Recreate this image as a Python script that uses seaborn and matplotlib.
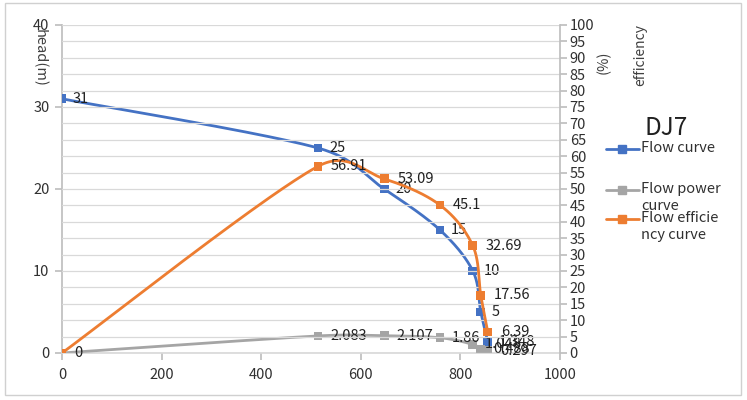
import numpy as np
import pandas as pd
import matplotlib
matplotlib.use("Agg")
import matplotlib.pyplot as plt
import seaborn as sns
from matplotlib.lines import Line2D
from matplotlib.patches import Rectangle

# ---- data ----
flow = [0, 514, 647, 759, 825, 841, 855]
head = [31, 25, 20, 15, 10, 5, 1.348]
head_labels = ["31", "25", "20", "15", "10", "5", "1.348"]
power = [0, 2.083, 2.107, 1.86, 1.048, 0.488, 0.297]
power_labels = ["0", "2.083", "2.107", "1.86", "1.048", "0.488", "0.297"]
eff = [0, 56.91, 53.09, 45.1, 32.69, 17.56, 6.39]
eff_labels = ["", "56.91", "53.09", "45.1", "32.69", "17.56", "6.39"]
legend_title = "DJ7"
series_names = ["Flow curve", "Flow power\ncurve", "Flow efficie\nncy curve"]
x_ticks = [0, 200, 400, 600, 800, 1000]
left_ticks = [0, 10, 20, 30, 40]
right_ticks = list(range(0, 101, 5))

BLUE = "#4472C4"
GRAY = "#A5A5A5"
ORANGE = "#ED7D31"

sns.set_theme(style="white")
plt.rcParams["font.family"] = ["Noto Sans CJK SC", "DejaVu Sans"]

AX_W, AX_H = 498.0, 328.0  # axes size in pixels


def smooth(x, y, xmax, ymax, clamp=0.5, n=60):
    """Excel-like smoothed line: Catmull-Rom Bezier in screen space, arms clamped."""
    sx = AX_W / xmax
    sy = AX_H / ymax
    P = np.column_stack([np.asarray(x, float) * sx, np.asarray(y, float) * sy])
    m = len(P)
    cb = np.zeros_like(P)
    ca = np.zeros_like(P)
    for i in range(m):
        prev = P[i - 1] if i > 0 else P[i]
        nxt = P[i + 1] if i < m - 1 else P[i]
        v = nxt - prev
        nv = np.linalg.norm(v)
        if nv == 0:
            cb[i] = ca[i] = P[i]
            continue
        u = v / nv
        d01 = np.linalg.norm(P[i] - prev)
        d12 = np.linalg.norm(nxt - P[i])
        ab = min(nv / 6, clamp * d01) if i > 0 else 0
        aa = min(nv / 6, clamp * d12) if i < m - 1 else 0
        cb[i] = P[i] - ab * u
        ca[i] = P[i] + aa * u
    out = []
    t = np.linspace(0, 1, n)[:, None]
    for i in range(m - 1):
        p0, p1, p2, p3 = P[i], ca[i], cb[i + 1], P[i + 1]
        seg = ((1 - t) ** 3) * p0 + 3 * ((1 - t) ** 2) * t * p1 + 3 * (1 - t) * t ** 2 * p2 + t ** 3 * p3
        out.append(seg if i == 0 else seg[1:])
    out = np.vstack(out)
    return out[:, 0] / sx, out[:, 1] / sy


fig = plt.figure(figsize=(7.47, 4.0), dpi=100)
ax = fig.add_axes([62 / 747, 47 / 400, AX_W / 747, AX_H / 400])
ax2 = ax.twinx()

ax2.set_ylim(0, 100)
ax.set_ylim(0, 40)
ax.set_xlim(0, 1000)
ax2.set_yticks(right_ticks)
ax2.grid(True, axis="y", color="#D9D9D9", lw=0.9)
ax.set_yticks(left_ticks)
ax.set_xticks(x_ticks)
ax.grid(False)

# curves
sx_, sy_ = smooth(flow, head, 1000, 40)
sns.lineplot(data=pd.DataFrame({"x": sx_, "y": sy_}), x="x", y="y", ax=ax, color=BLUE,
             lw=2, sort=False, estimator=None, zorder=4)
sns.scatterplot(x=flow, y=head, ax=ax, color=BLUE, marker="s", s=40, edgecolor="none", zorder=5)

sx_, sy_ = smooth(flow, power, 1000, 40)
sns.lineplot(data=pd.DataFrame({"x": sx_, "y": sy_}), x="x", y="y", ax=ax, color=GRAY,
             lw=2, sort=False, estimator=None, zorder=4)
sns.scatterplot(x=flow, y=power, ax=ax, color=GRAY, marker="s", s=40, edgecolor="none", zorder=5)

sx_, sy_ = smooth(flow, eff, 1000, 100)
sns.lineplot(data=pd.DataFrame({"x": sx_, "y": sy_}), x="x", y="y", ax=ax2, color=ORANGE,
             lw=2, sort=False, estimator=None, zorder=4)
sns.scatterplot(x=flow, y=eff, ax=ax2, color=ORANGE, marker="s", s=40, edgecolor="none", zorder=5)

fs = 10.5
for xv, yv, lab in zip(flow, head, head_labels):
    ax.annotate(lab, (xv, yv), xytext=(11, 0), textcoords="offset pixels",
                va="center", ha="left", fontsize=fs, color="#202020", zorder=6)
for xv, yv, lab in zip(flow, power, power_labels):
    ax.annotate(lab, (xv, yv), xytext=(12, 0), textcoords="offset pixels",
                va="center", ha="left", fontsize=fs, color="#202020", zorder=6)
for xv, yv, lab in zip(flow, eff, eff_labels):
    if lab:
        ax2.annotate(lab, (xv, yv), xytext=(13, 0), textcoords="offset pixels",
                     va="center", ha="left", fontsize=fs, color="#202020", zorder=6)

# axes styling
for a in (ax, ax2):
    for sp in a.spines.values():
        sp.set_visible(False)
    a.set_xlabel("")
    a.set_ylabel("")
ax.spines["left"].set_visible(True)
ax.spines["left"].set_color("#BFBFBF")
ax.spines["bottom"].set_visible(True)
ax.spines["bottom"].set_color("#D9D9D9")
ax2.spines["right"].set_visible(True)
ax2.spines["right"].set_color("#BFBFBF")
ax.tick_params(axis="y", length=5, color="#BFBFBF", labelsize=10.5, left=True, pad=4, labelcolor="#303030")
ax.tick_params(axis="x", length=5, color="#BFBFBF", labelsize=10.5, bottom=True, pad=6, labelcolor="#303030")
ax2.tick_params(axis="y", length=5, color="#BFBFBF", labelsize=10.5, right=True, pad=2, labelcolor="#303030")

# axis titles
fig.text(40 / 747, 1 - 58 / 400, "head(m)", rotation=-90, ha="center", va="center",
         fontsize=10.5, color="#404040")
fig.text(604 / 747, 1 - 62 / 400, "(%)", rotation=90, ha="center", va="center",
         fontsize=10.5, color="#404040")
fig.text(640 / 747, 1 - 55 / 400, "efficiency", rotation=90, ha="center", va="center",
         fontsize=10, color="#404040")

# legend (Excel style: marker aligned with first text line)
fig.text(666 / 747, 1 - 128 / 400, legend_title, ha="center", va="center", fontsize=17.5, color="#202020")
leg_rows = [149, 190, 219]
for c, name, yp in zip((BLUE, GRAY, ORANGE), series_names, leg_rows):
    yf = 1 - yp / 400
    fig.add_artist(Line2D([606 / 747, 639 / 747], [yf, yf], color=c, lw=2, transform=fig.transFigure))
    fig.add_artist(Line2D([622 / 747], [yf], color=c, marker="s", markersize=6, lw=0,
                          transform=fig.transFigure))
    fig.text(641 / 747, yf + 8 / 400, name, ha="left", va="top", fontsize=10.5,
             color="#303030", linespacing=1.3)

# outer border
fig.patches.append(Rectangle((5 / 747, 5 / 400), 736 / 747, 392 / 400, transform=fig.transFigure,
                             fill=False, edgecolor="#D0D0D0", lw=1))

fig.savefig("out.png", dpi=100)
